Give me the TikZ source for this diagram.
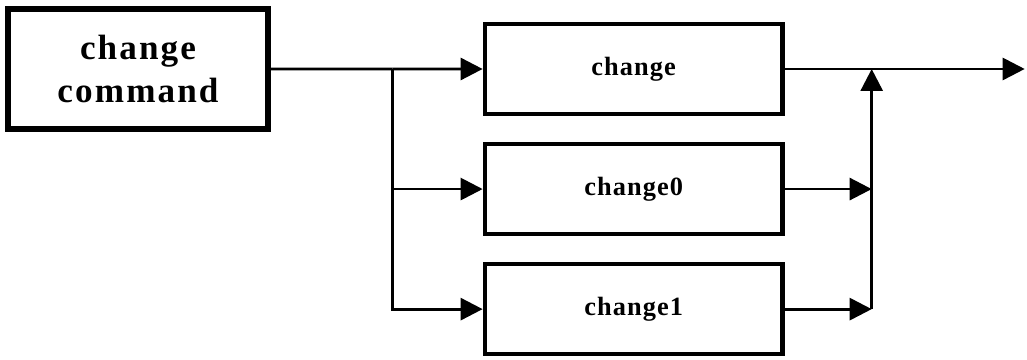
\documentclass[tikz,border=0pt]{standalone}
\usepackage{fontspec}
\setmainfont{Liberation Serif}
\newfontfamily\cmdfont[LetterSpace=6]{Liberation Serif}
\newfontfamily\fnfont[LetterSpace=4]{Liberation Serif}
\usetikzlibrary{arrows.meta, positioning, calc}

\begin{document}
\begin{tikzpicture}[
    cmdbox/.style={rectangle, draw, line width=3pt, minimum width=5.2cm, minimum height=2.4cm, font=\cmdfont\fontsize{20}{25}\selectfont\bfseries, align=center},
    fnbox/.style={rectangle, draw, line width=2.6pt, minimum width=5.95cm, minimum height=1.8cm, font=\fnfont\fontsize{15}{18}\selectfont\bfseries},
    wire/.style={line width=1.6pt},
    flow/.style={-{Triangle[length=4.4mm, width=4.4mm]}, line width=1.6pt},
    node distance=0.51cm,
  ]
  \useasboundingbox (0,0) rectangle (20.54,7.2);
  \node[cmdbox] (cmd) at (2.76,5.82) {change\\command};
  \node[fnbox, right=4.24cm of cmd] (chg) {change};
  \node[fnbox, below=of chg] (chg0) {change0};
  \node[fnbox, below=of chg0] (chg1) {change1};

  \coordinate (split) at ($(cmd.east)!0.575!(chg.west)$);
  \coordinate (merge) at ([xshift=1.74cm]chg.east);
  \coordinate (out) at ([xshift=4.8cm]chg.east);

  % Fan out
  \draw[wire] (cmd.east) -- (split);
  \draw[flow] (split) -- (chg.west);
  \draw[flow] (split) |- (chg0.west);
  \draw[flow] (split) |- (chg1.west);

  % Merge
  \draw[flow] (chg0.east) -- (chg0.east -| merge);
  \draw[flow] (chg1.east) -- (chg1.east -| merge);
  \draw[flow] (chg1.east -| merge) -- (merge);
  \draw[flow] (chg.east) -- (out);
\end{tikzpicture}
\end{document}
